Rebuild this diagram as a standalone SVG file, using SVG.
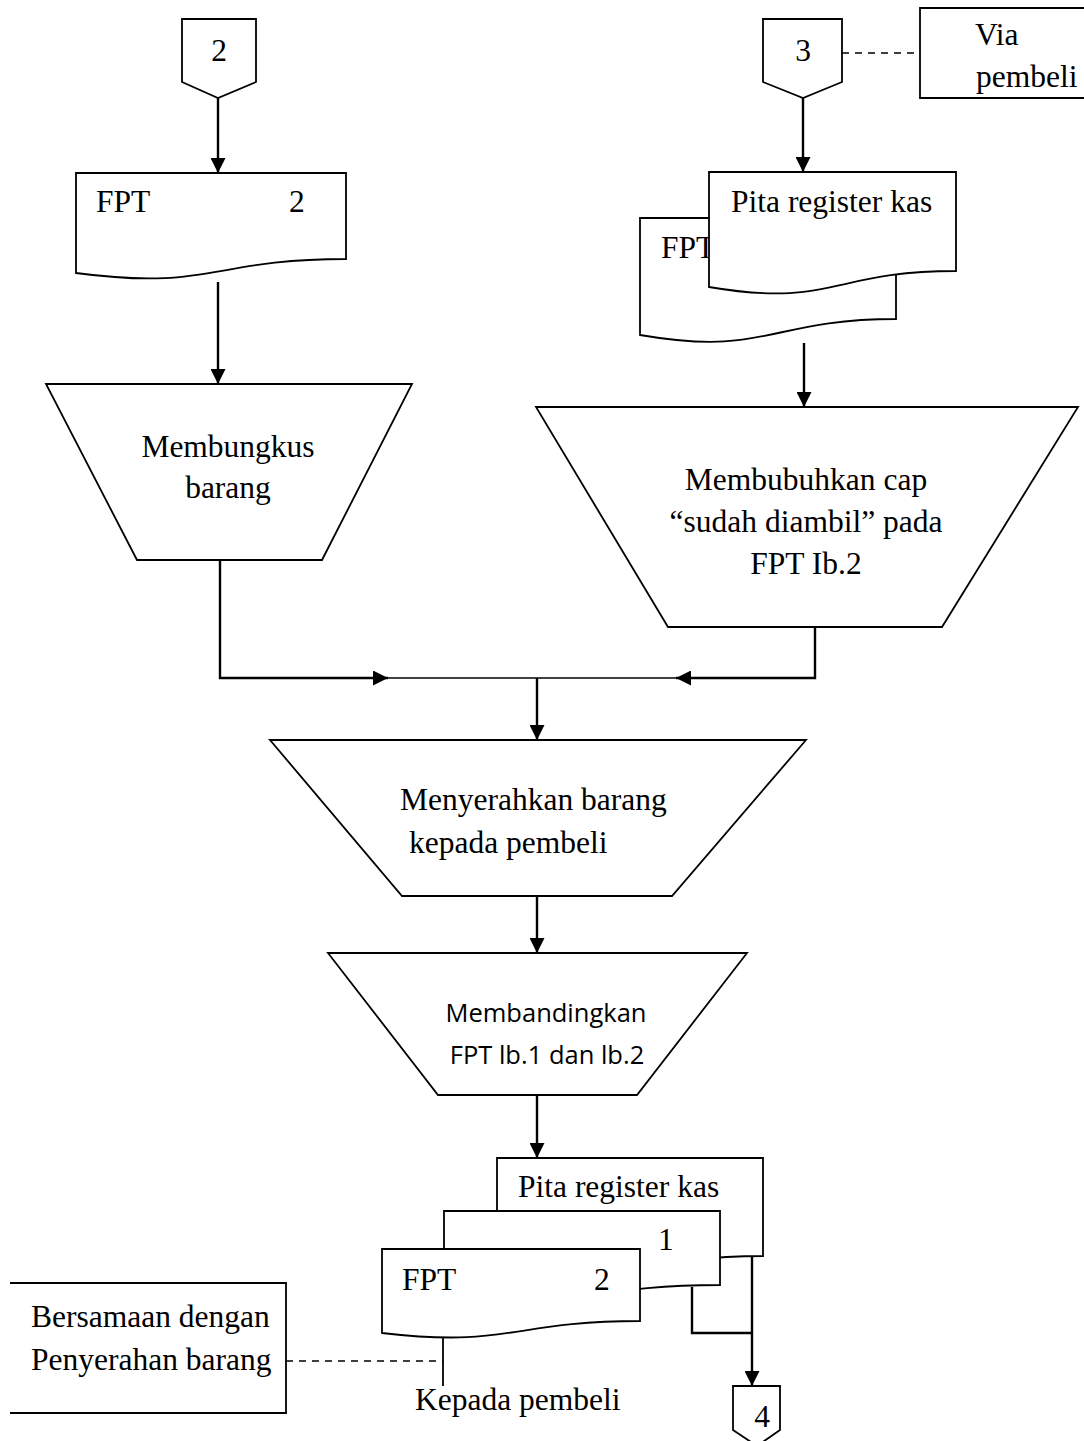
<svg xmlns="http://www.w3.org/2000/svg" width="1084" height="1441" viewBox="0 0 1084 1441">
<defs>
<style>
.s{fill:#fff;stroke:#000;stroke-width:1.8;stroke-linejoin:miter}
.o{fill:none;stroke:#000;stroke-width:1.8}
.c{fill:none;stroke:#000;stroke-width:2.4}
.thin{fill:none;stroke:#000;stroke-width:1.4}
.d{fill:none;stroke:#000;stroke-width:1.5;stroke-dasharray:7,6}
.t{font-family:"Liberation Serif","Times New Roman",serif;font-size:31.5px;fill:#000}
.m{text-anchor:middle}
.sans{font-family:"Open Sans","Liberation Sans",sans-serif;font-size:25.5px;fill:#000;text-anchor:middle}
</style>
<marker id="ah" markerUnits="userSpaceOnUse" markerWidth="17" markerHeight="15" refX="15" refY="7.5" orient="auto">
<path d="M0,0 L15,7.5 L0,15 Z" fill="#000"/>
</marker>
</defs>

<g id="connectors">
<line class="c" x1="218" y1="98" x2="218" y2="173" marker-end="url(#ah)"/>
<line class="c" x1="218" y1="282" x2="218" y2="384" marker-end="url(#ah)"/>
<line class="c" x1="803" y1="98" x2="803" y2="172" marker-end="url(#ah)"/>
<line class="c" x1="804" y1="343" x2="804" y2="407" marker-end="url(#ah)"/>
<line class="d" x1="842" y1="53" x2="920" y2="53"/>
<polyline class="c" points="220,560 220,678 388,678" marker-end="url(#ah)"/>
<polyline class="c" points="815,627 815,678 676,678" marker-end="url(#ah)"/>
<line class="thin" x1="388" y1="678" x2="676" y2="678"/>
<line class="c" x1="537" y1="678" x2="537" y2="740" marker-end="url(#ah)"/>
<line class="c" x1="537" y1="896" x2="537" y2="953" marker-end="url(#ah)"/>
<line class="c" x1="537" y1="1095" x2="537" y2="1158" marker-end="url(#ah)"/>
<polyline class="c" points="692,1287 692,1333 752,1333"/>
<line class="c" x1="752" y1="1250" x2="752" y2="1386" marker-end="url(#ah)"/>
<line class="o" x1="443" y1="1337" x2="443" y2="1386"/>
<line class="d" x1="286" y1="1361" x2="443" y2="1361"/>
</g>

<g id="conn-2">
<path class="s" d="M182,19 H256 V82 L218,98 L182,82 Z"/>
<text class="t m" x="219" y="61">2</text>
</g>

<g id="conn-3">
<path class="s" d="M763,19 H842 V82 L803,98 L763,82 Z"/>
<text class="t m" x="803" y="61">3</text>
</g>

<g id="note-via">
<polyline class="o" points="1090,8 920,8 920,98 1090,98"/>
<text class="t" x="975" y="45">Via</text>
<text class="t" x="976" y="87">pembeli</text>
</g>

<g id="doc-fpt-top">
<path class="s" d="M76,173 H346 V259 C211,259 211,291 76,273 Z"/>
<text class="t" x="96" y="212">FPT</text>
<text class="t" x="289" y="212">2</text>
</g>

<g id="doc-stack-top">
<path class="s" d="M640,218 H896 V319 C768,319 768,357 640,335 Z"/>
<text class="t" x="661" y="258">FPT</text>
<path class="s" d="M709,172 H956 V271 C832,271 832,308 709,287 Z"/>
<text class="t" x="731" y="212">Pita register kas</text>
</g>

<g id="proc-membungkus">
<path class="s" d="M46,384 H412 L322,560 H137 Z"/>
<text class="t m" x="228" y="457">Membungkus</text>
<text class="t m" x="228" y="498">barang</text>
</g>

<g id="proc-membubuhkan">
<path class="s" d="M536,407 H1078 L942,627 H668 Z"/>
<text class="t m" x="806" y="490">Membubuhkan cap</text>
<text class="t m" x="806" y="532">“sudah diambil” pada</text>
<text class="t m" x="806" y="574">FPT Ib.2</text>
</g>

<g id="proc-menyerahkan">
<path class="s" d="M270,740 H806 L672,896 H402 Z"/>
<text class="t" x="400" y="810">Menyerahkan barang</text>
<text class="t" x="409" y="853">kepada pembeli</text>
</g>

<g id="proc-membandingkan">
<path class="s" d="M328,953 H747 L637,1095 H438 Z"/>
<text class="sans" x="546" y="1022">Membandingkan</text>
<text class="sans" x="547" y="1064">FPT lb.1 dan lb.2</text>
</g>

<g id="doc-stack-bottom">
<path class="s" d="M497,1158 H763 V1256 C630,1256 630,1293 497,1272 Z"/>
<text class="t" x="518" y="1197">Pita register kas</text>
<path class="s" d="M444,1211 H720 V1285 C582,1285 582,1313 444,1297 Z"/>
<text class="t" x="658" y="1250">1</text>
<path class="s" d="M382,1249 H640 V1321 C511,1321 511,1348 382,1333 Z"/>
<text class="t" x="402" y="1290">FPT</text>
<text class="t" x="594" y="1290">2</text>
</g>

<g id="note-bersamaan">
<polyline class="o" points="10,1283 286,1283 286,1413 10,1413"/>
<text class="t" x="31" y="1327">Bersamaan dengan</text>
<text class="t" x="31" y="1370">Penyerahan barang</text>
</g>

<text class="t" x="415" y="1410">Kepada pembeli</text>

<g id="conn-4">
<path class="s" d="M733,1386 H780 V1430 L757,1446 L733,1430 Z"/>
<text class="t m" x="762" y="1427">4</text>
</g>
</svg>
